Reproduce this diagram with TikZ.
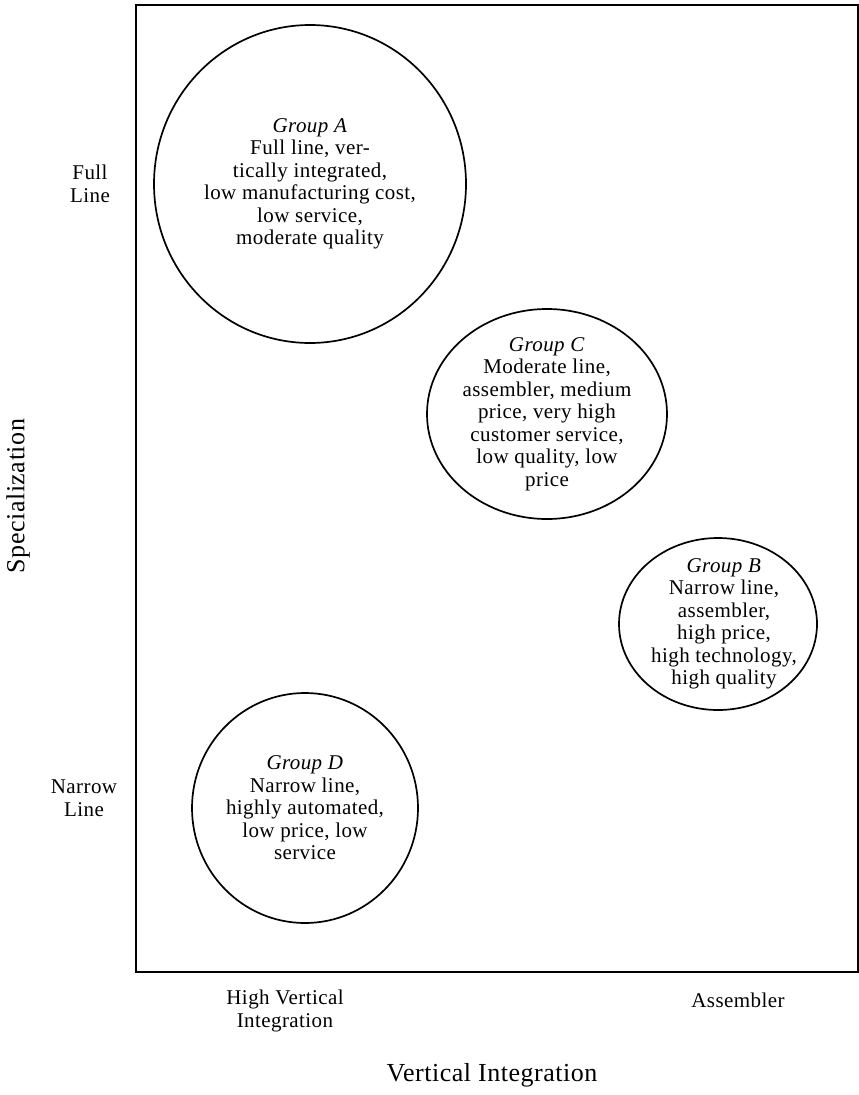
\documentclass[tikz,border=0pt]{standalone}
\usepackage{fontspec}
\setmainfont[LetterSpace=2]{Liberation Serif}
\usetikzlibrary{shapes.geometric}

\begin{document}
\begin{tikzpicture}[
  x=1pt, y=-1pt,
  every node/.style={inner sep=0pt, align=center},
  txt/.style={font=\fontsize{21}{22.5}\selectfont},
  group/.style={ellipse, draw, line width=1.7pt, inner sep=0pt},
  frame/.style={draw, line width=2.4pt}]

  \useasboundingbox (0,0) rectangle (859,1095);

  %% ---------------- plot area ----------------
  \draw[frame] (136,5) rectangle (858,972);

  %% ---------------- groups ----------------
  % outlines
  \node[group, minimum width=312pt, minimum height=318pt] (grpA) at (310,184) {};
  \node[group, minimum width=240pt, minimum height=210pt] (grpC) at (547,414) {};
  \node[group, minimum width=198pt, minimum height=172pt] (grpB) at (718,624) {};
  \node[group, minimum width=226pt, minimum height=230pt] (grpD) at (305,808) {};
  % descriptions
  \node[txt] (txtA) at (grpA) {\textit{Group A}\\Full line, ver-\\tically integrated,\\low manufacturing cost,\\low service,\\moderate quality};
  \node[txt] (txtC) at (grpC) {\textit{Group C}\\Moderate line,\\assembler, medium\\price, very high\\customer service,\\low quality, low\\price};
  \node[txt] (txtB) at ([xshift=6pt]grpB) {\textit{Group B}\\Narrow line,\\assembler,\\high price,\\high technology,\\high quality};
  \node[txt] (txtD) at (grpD) {\textit{Group D}\\Narrow line,\\highly automated,\\low price, low\\service};

  %% ---------------- axis labels ----------------
  \node[txt] (full)   at (90,184)  {Full\\Line};
  \node[txt] (narrow) at (84,798)  {Narrow\\Line};
  \node[font=\fontsize{26}{28}\selectfont, rotate=90] (spec) at (18,496) {Specialization};
  \node[txt] (hvi)    at (285,1011) {High Vertical\\Integration};
  \node[txt] (asm)    at (738,1000) {Assembler};
  \node[font=\fontsize{26}{28}\selectfont] (vint) at (492,1075) {Vertical Integration};

\end{tikzpicture}
\end{document}
